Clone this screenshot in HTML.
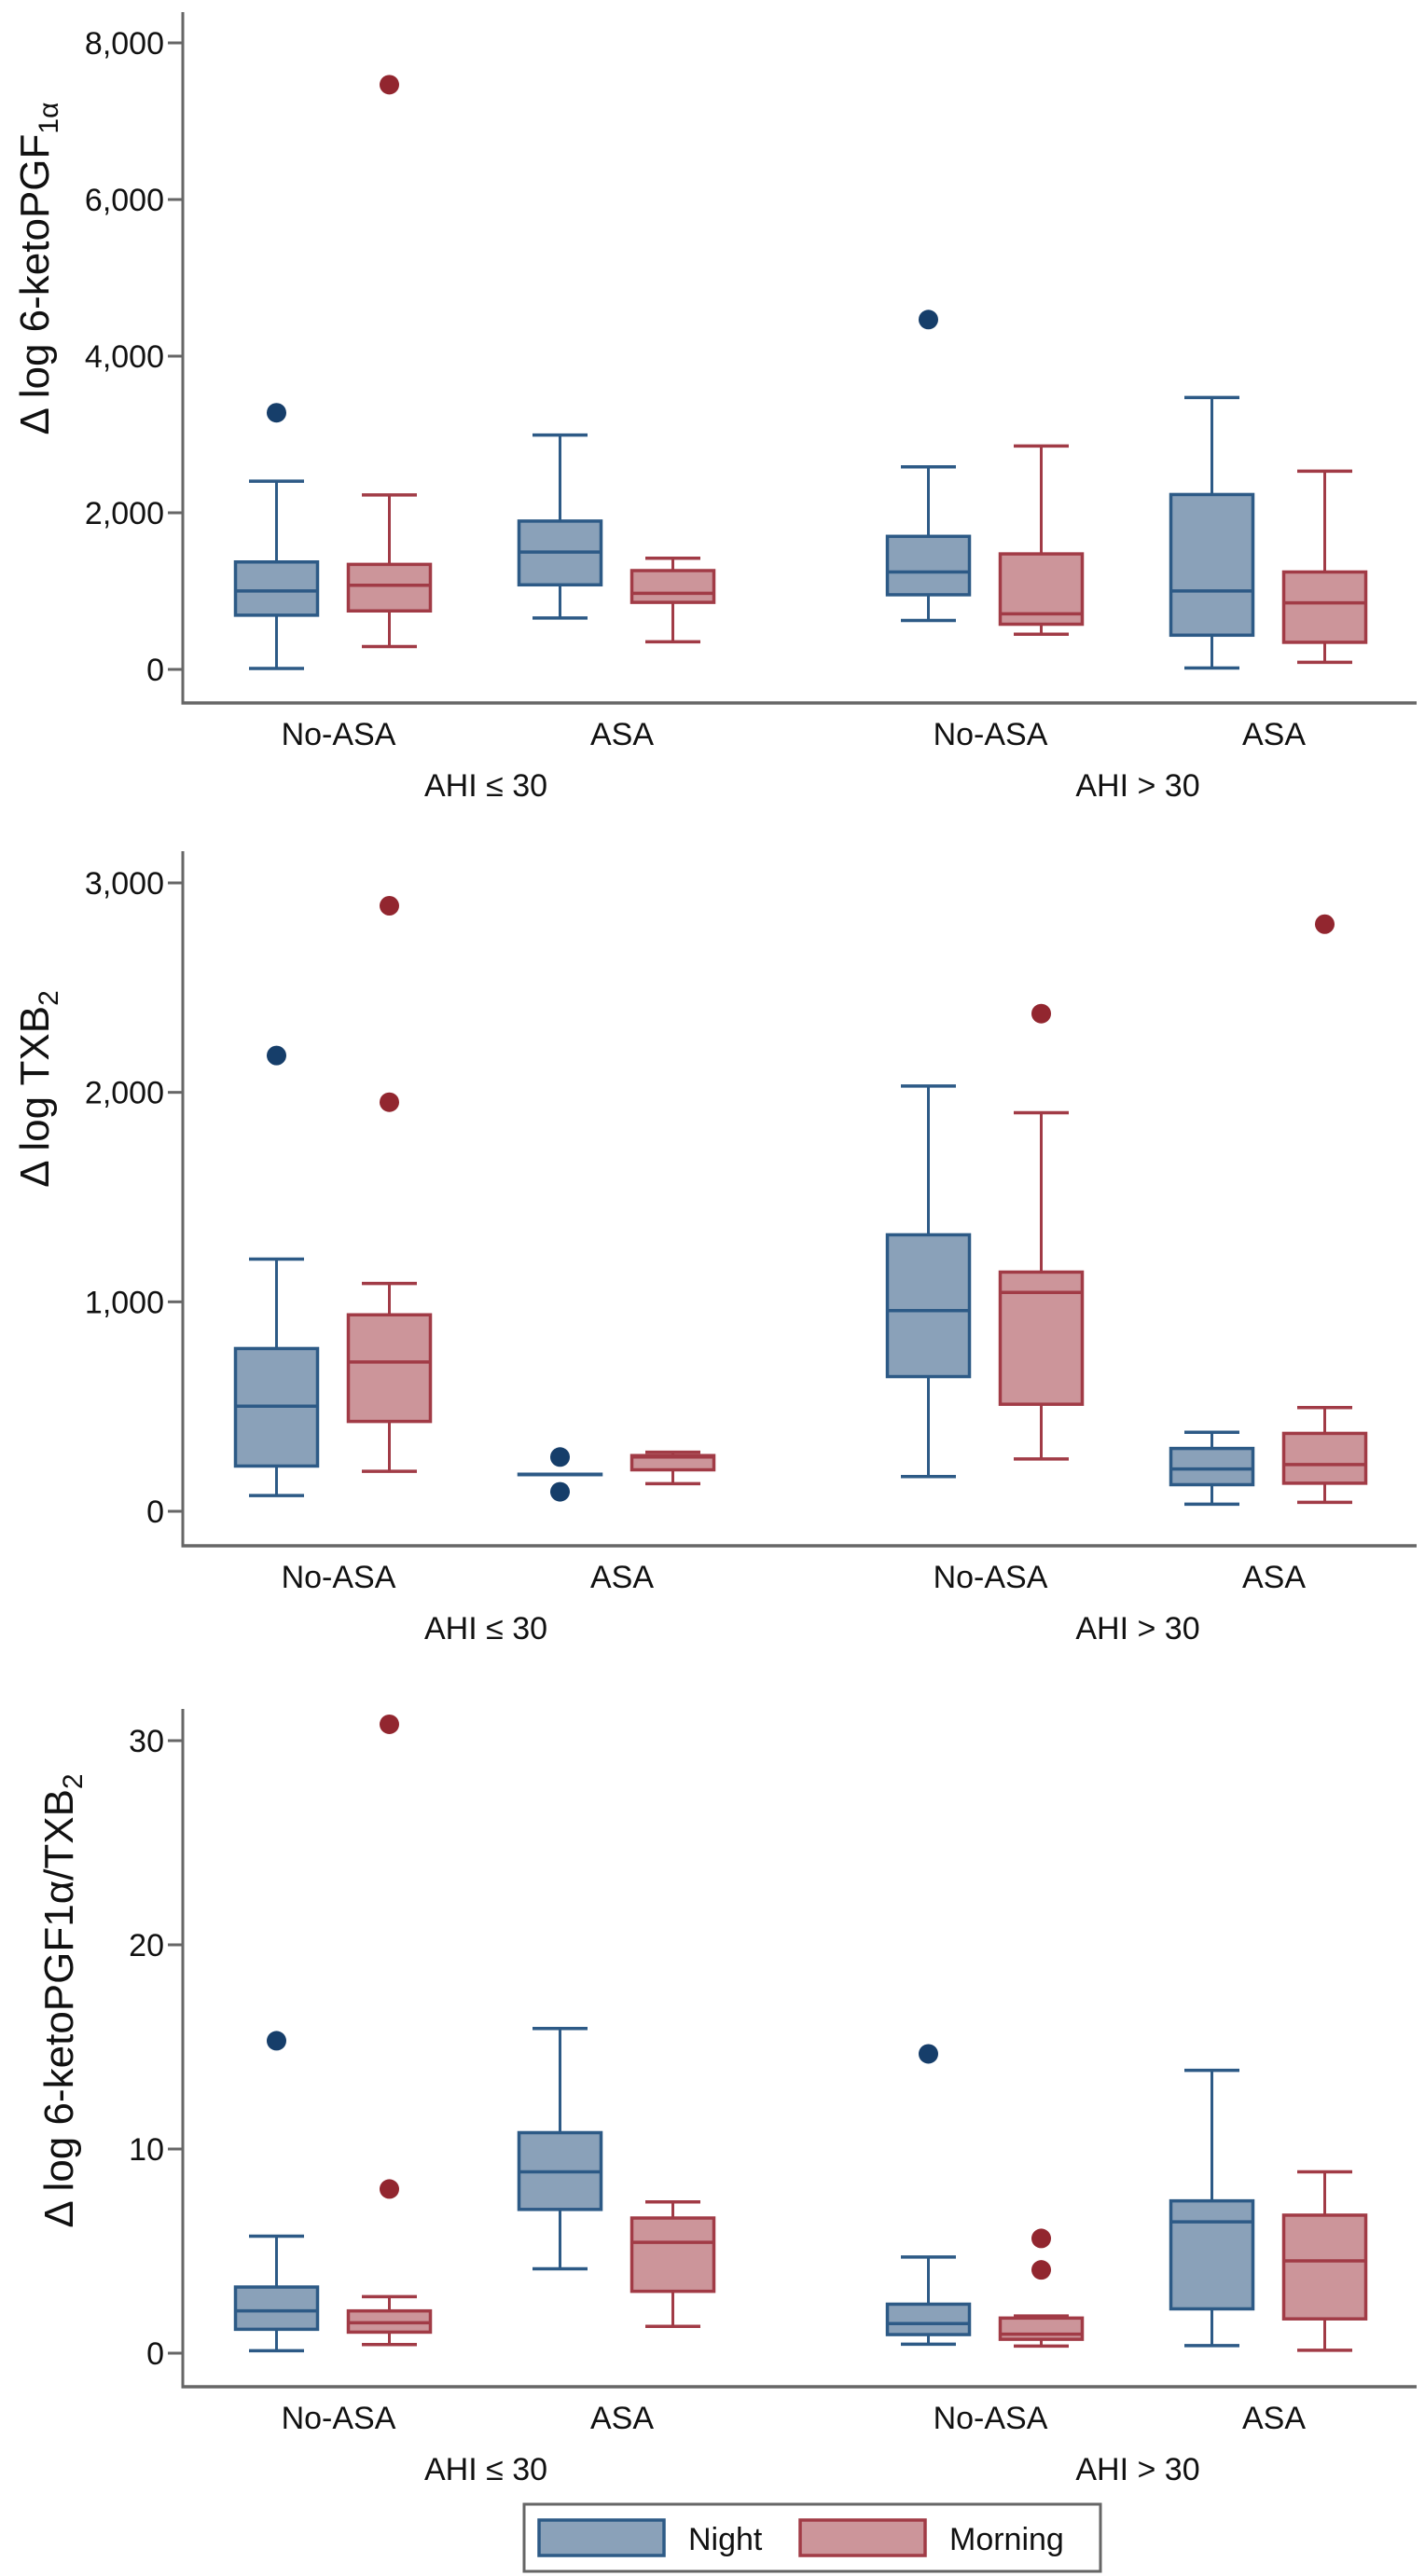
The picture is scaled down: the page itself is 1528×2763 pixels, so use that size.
<!DOCTYPE html>
<html><head><meta charset="utf-8">
<style>
html,body{margin:0;padding:0;background:#fff;}
svg{display:block;}
text{font-family:"Liberation Sans",Arial,sans-serif;fill:#111;}
</style></head>
<body>
<svg id="chart" width="1528" height="2763" viewBox="0 0 1528 2763" xmlns="http://www.w3.org/2000/svg"></svg>
<script>
// categories
const groups = ["No-ASA","ASA","No-ASA","ASA"];
const ahiLabels = ["AHI \u2264 30","AHI > 30"];
const seriesNames = ["Night","Morning"];
// Panel 1: 6-ketoPGF1a  [low, q1, median, q3, high]
const p1Night = [[12,692,1001,1372,2404],[656,1080,1499,1894,2992],[625,953,1244,1699,2586],[18,437,1001,2233,3472]];
const p1Morning = [[291,747,1074,1341,2228],[352,856,971,1262,1420],[449,577,710,1475,2853],[91,346,850,1244,2531]];
const p1NightOut = [[3277],[],[4467],[]];
const p1MorningOut = [[7466],[],[],[]];
const p1Ticks = [0,2000,4000,6000,8000];
const p1TickLabels = ["0","2,000","4,000","6,000","8,000"];
// Panel 2: TXB2
const p2Night = [[75,216,502,777,1204],[177,177,177,177,177],[166,643,958,1320,2030],[34,127,202,300,377]];
const p2Morning = [[191,429,713,938,1088],[132,198,259,266,282],[250,511,1045,1142,1903],[43,134,223,372,495]];
const p2NightOut = [[2176],[259,93],[],[]];
const p2MorningOut = [[2891,1953],[],[2376],[2803]];
const p2Ticks = [0,1000,2000,3000];
const p2TickLabels = ["0","1,000","2,000","3,000"];
// Panel 3: ratio
const p3Night = [[0.12,1.17,2.07,3.24,5.73],[4.13,7.04,8.88,10.8,15.9],[0.44,0.91,1.45,2.40,4.71],[0.37,2.17,6.43,7.46,13.85]];
const p3Morning = [[0.42,1.03,1.49,2.07,2.77],[1.31,3.03,5.43,6.62,7.41],[0.35,0.68,0.93,1.72,1.82],[0.14,1.68,4.52,6.76,8.88]];
const p3NightOut = [[15.3],[],[14.66],[]];
const p3MorningOut = [[30.8,8.04],[],[5.62,4.08],[]];
const p3Ticks = [0,10,20,30];
const p3TickLabels = ["0","10","20","30"];

const NS="http://www.w3.org/2000/svg";
const svg=document.getElementById('chart');
function mk(tag,attrs,parent){const e=document.createElementNS(NS,tag);for(const k in attrs)e.setAttribute(k,attrs[k]);(parent||svg).appendChild(e);return e;}

const AX_X=196, AX_R=1519;
const pairCenters=[357,661,1056,1360];
const OFF=60.5, BW=88, CAP=59;
const COL={Night:{fill:"#8aa1b9",stroke:"#2d5a86",dot:"#163e6a"},Morning:{fill:"#cc959a",stroke:"#a13b46",dot:"#92262f"}};

function xPos(gi,si){return pairCenters[gi]+(si===0?-OFF:OFF);}

function panel(cfg){
  const g=mk('g',{});
  
  
  const y=v=>cfg.y0+(v-cfg.vmin)*(cfg.yTop-cfg.y0)/(cfg.vmax-cfg.vmin);
  const ya=mk('line',{x1:AX_X,y1:cfg.axisTop,x2:AX_X,y2:cfg.axisBottom,stroke:"#666","stroke-width":3},g);
  
  
  const xa=mk('line',{x1:AX_X-1.5,y1:cfg.axisBottom,x2:AX_R,y2:cfg.axisBottom,stroke:"#666","stroke-width":3.5},g);
  
  
  cfg.ticks.forEach((t,i)=>{
    const ty=y(t);
    const tk=mk('line',{x1:AX_X-16,y1:ty,x2:AX_X,y2:ty,stroke:"#666","stroke-width":3},g);
    
    
    const tl=mk('text',{x:AX_X-20,y:ty+12,"text-anchor":"end","font-size":34},g);
    tl.textContent=cfg.tickLabels[i];
    
    
  });
  const tt=mk('text',{transform:`translate(${cfg.titleX},${cfg.titleY}) rotate(-90)`,"text-anchor":"middle","font-size":44},g);
  tt.innerHTML=cfg.title;
  
  
  groups.forEach((lab,gi)=>{
    const t=mk('text',{x:pairCenters[gi]+6,y:cfg.axisBottom+45,"text-anchor":"middle","font-size":34},g);
    t.textContent=lab;
    
    
  });
  ahiLabels.forEach((lab,i)=>{
    const cx=(pairCenters[i*2]+pairCenters[i*2+1])/2+12;
    const t=mk('text',{x:cx,y:cfg.axisBottom+100,"text-anchor":"middle","font-size":34},g);
    t.textContent=lab;
    
    
  });
  [cfg.night,cfg.morning].forEach((series,si)=>{
    const c=COL[seriesNames[si]];
    const outs=si===0?cfg.nightOut:cfg.morningOut;
    series.forEach((s,gi)=>{
      const cx=xPos(gi,si);
      const bg=mk('g',{},g);
      
      
      const [lo,q1,md,q3,hi]=s;
      mk('line',{x1:cx,y1:y(q3),x2:cx,y2:y(hi),stroke:c.stroke,"stroke-width":3},bg);
      mk('line',{x1:cx,y1:y(q1),x2:cx,y2:y(lo),stroke:c.stroke,"stroke-width":3},bg);
      mk('line',{x1:cx-CAP/2,y1:y(hi),x2:cx+CAP/2,y2:y(hi),stroke:c.stroke,"stroke-width":3.5},bg);
      mk('line',{x1:cx-CAP/2,y1:y(lo),x2:cx+CAP/2,y2:y(lo),stroke:c.stroke,"stroke-width":3.5},bg);
      mk('rect',{x:cx-BW/2,y:y(q3),width:BW,height:Math.max(0.5,y(q1)-y(q3)),fill:c.fill,stroke:c.stroke,"stroke-width":3.5},bg);
      mk('line',{x1:cx-BW/2,y1:y(md),x2:cx+BW/2,y2:y(md),stroke:c.stroke,"stroke-width":3.5},bg);
      outs[gi].forEach(v=>{
        const d=mk('circle',{cx:cx,cy:y(v),r:10.5,fill:c.dot},bg);
        
        
      });
    });
  });
}

panel({name:'panel-6-ketopgf1a',vmin:0,vmax:8000,y0:718,yTop:46,axisTop:13,axisBottom:754,
  ticks:p1Ticks,tickLabels:p1TickLabels,night:p1Night,morning:p1Morning,nightOut:p1NightOut,morningOut:p1MorningOut,
  titleX:52,titleY:288,title:'\u0394 log 6-ketoPGF<tspan dy="10" font-size="30">1\u03b1</tspan>'});
panel({name:'panel-txb2',vmin:0,vmax:3000,y0:1621,yTop:947,axisTop:913,axisBottom:1658,
  ticks:p2Ticks,tickLabels:p2TickLabels,night:p2Night,morning:p2Morning,nightOut:p2NightOut,morningOut:p2MorningOut,
  titleX:52,titleY:1168,title:'\u0394 log TXB<tspan dy="10" font-size="30">2</tspan>'});
panel({name:'panel-ratio',vmin:0,vmax:30,y0:2524,yTop:1867,axisTop:1833,axisBottom:2560,
  ticks:p3Ticks,tickLabels:p3TickLabels,night:p3Night,morning:p3Morning,nightOut:p3NightOut,morningOut:p3MorningOut,
  titleX:78,titleY:2146,title:'\u0394 log 6-ketoPGF1\u03b1/TXB<tspan dy="10" font-size="30">2</tspan>'});

const lg=mk('g',{});


mk('rect',{x:562,y:2686,width:618,height:72,fill:"#fff",stroke:"#666","stroke-width":3},lg);
[[578,738,'Night'],[858,1018,'Morning']].forEach(([sx,tx,nm])=>{
  const c=COL[nm];
  const e=mk('g',{},lg);
  
  
  mk('rect',{x:sx,y:2703,width:134,height:38,fill:c.fill,stroke:c.stroke,"stroke-width":3.5},e);
  const t=mk('text',{x:tx,y:2735,"font-size":34},e);
  t.textContent=nm;
});
</script>
</body></html>
